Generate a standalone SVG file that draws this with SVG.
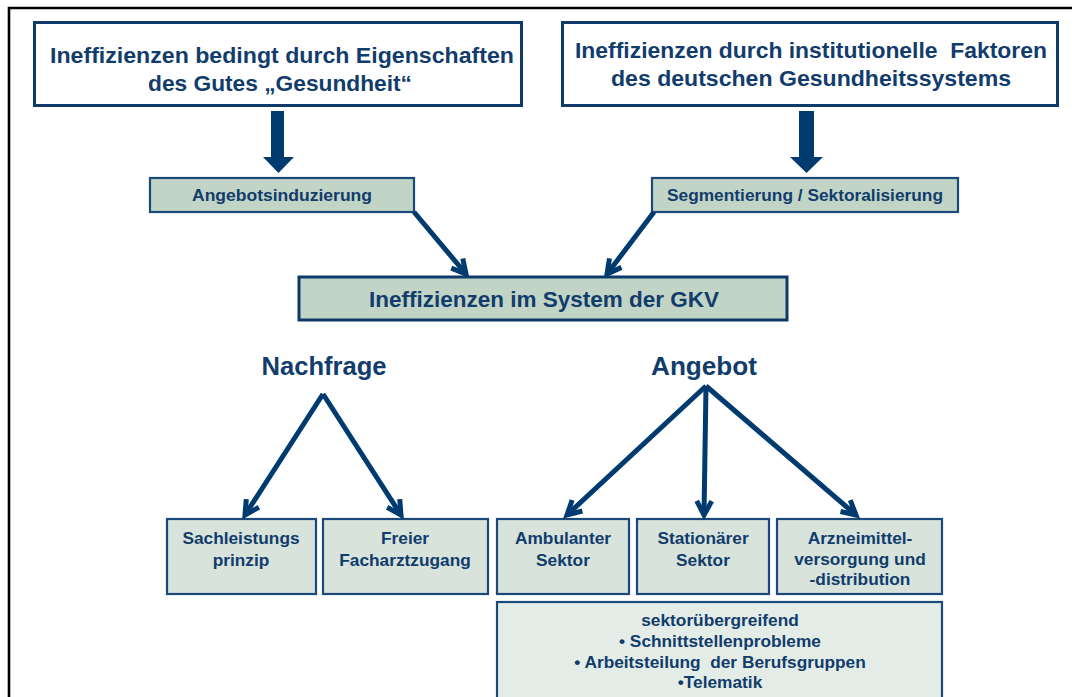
<svg xmlns="http://www.w3.org/2000/svg" width="1072" height="697" viewBox="0 0 1072 697">
<defs>
<style>
.t{font-family:"Liberation Sans",Arial,sans-serif;font-weight:bold;fill:#113c6b;text-anchor:middle}
.big{fill:#fff;stroke:#0d3a68;stroke-width:3}
.mid{fill:#c1d4c6;stroke:#1b4a7a;stroke-width:2.2}
.gkv{fill:#c1d4c6;stroke:#0d3a68;stroke-width:3}
.low{fill:#d7e3db;stroke:#1b4a7a;stroke-width:2.2}
.sek{fill:#e3ece6;stroke:#1b4a7a;stroke-width:2.2}
.ln{fill:none;stroke:#003b6f;stroke-width:5;marker-end:url(#ah)}
.blk{fill:#003b6f}
.s{font-size:17.3px}
</style>
<marker id="ah" markerUnits="userSpaceOnUse" markerWidth="24" markerHeight="24" refX="17" refY="10" orient="auto" overflow="visible">
<path d="M3,2.5 L17,10 L3,17.5" fill="none" stroke="#003b6f" stroke-width="5" stroke-linejoin="miter"/>
</marker>
</defs>
<rect width="1072" height="697" fill="#fff"/>
<path d="M9,697 V8 H1072" fill="none" stroke="#000" stroke-width="2.6"/>

<g id="box-eigenschaften">
<rect class="big" x="34.5" y="22.5" width="487" height="83"/>
<text class="t" x="282" y="63" font-size="22.5" textLength="464" lengthAdjust="spacingAndGlyphs">Ineffizienzen bedingt durch Eigenschaften</text>
<text class="t" x="280" y="91" font-size="22.5" textLength="264" lengthAdjust="spacingAndGlyphs">des Gutes „Gesundheit“</text>
</g>
<g id="box-institutionell">
<rect class="big" x="562.5" y="22.5" width="495" height="83"/>
<text class="t" x="811" y="58" font-size="22.5" xml:space="preserve" textLength="472" lengthAdjust="spacingAndGlyphs">Ineffizienzen durch institutionelle  Faktoren</text>
<text class="t" x="811" y="86" font-size="22.5" textLength="400" lengthAdjust="spacingAndGlyphs">des deutschen Gesundheitssystems</text>
</g>
<g id="box-angebotsinduzierung">
<rect class="mid" x="150" y="178" width="264" height="34"/>
<text class="t" x="282" y="201" font-size="16.5" textLength="180" lengthAdjust="spacingAndGlyphs">Angebotsinduzierung</text>
</g>
<g id="box-segmentierung">
<rect class="mid" x="652" y="178" width="306" height="34"/>
<text class="t" x="805" y="201" font-size="16.5" textLength="276" lengthAdjust="spacingAndGlyphs">Segmentierung / Sektoralisierung</text>
</g>
<g id="box-gkv">
<rect class="gkv" x="299" y="277" width="488" height="43"/>
<text class="t" x="544" y="307" font-size="22.5" textLength="350" lengthAdjust="spacingAndGlyphs">Ineffizienzen im System der GKV</text>
</g>
<g id="label-nachfrage">
<text class="t" x="324" y="375" font-size="25" textLength="125" lengthAdjust="spacingAndGlyphs">Nachfrage</text>
</g>
<g id="label-angebot">
<text class="t" x="704" y="375" font-size="25" textLength="106" lengthAdjust="spacingAndGlyphs">Angebot</text>
</g>
<g id="box-sachleistung">
<rect class="low" x="167" y="519" width="149" height="75"/>
<text class="t s" x="241" y="544">Sachleistungs</text>
<text class="t s" x="241" y="566">prinzip</text>
</g>
<g id="box-facharzt">
<rect class="low" x="323" y="519" width="165" height="75"/>
<text class="t s" x="405" y="544">Freier</text>
<text class="t s" x="405" y="566">Facharztzugang</text>
</g>
<g id="box-ambulant">
<rect class="low" x="497" y="519" width="132" height="75"/>
<text class="t s" x="563" y="544">Ambulanter</text>
<text class="t s" x="563" y="566">Sektor</text>
</g>
<g id="box-stationaer">
<rect class="low" x="637" y="519" width="132" height="75"/>
<text class="t s" x="703" y="544">Stationärer</text>
<text class="t s" x="703" y="566">Sektor</text>
</g>
<g id="box-arzneimittel">
<rect class="low" x="777" y="519" width="165" height="75"/>
<text class="t s" x="860" y="544">Arzneimittel-</text>
<text class="t s" x="860" y="565">versorgung und</text>
<text class="t s" x="860" y="585">-distribution</text>
</g>
<g id="box-sektoruebergreifend">
<rect class="sek" x="497" y="602" width="445" height="110"/>
<text class="t s" x="720" y="626">sektorübergreifend</text>
<text class="t s" x="720" y="647">• Schnittstellenprobleme</text>
<text class="t s" x="720" y="668" xml:space="preserve">• Arbeitsteilung  der Berufsgruppen</text>
<text class="t s" x="720" y="688">•Telematik</text>
</g>

<g id="connectors">
<polygon class="blk" points="271,111 284,111 284,157 294,157 278.5,173 263,157 271,157"/>
<polygon class="blk" points="799,111 814,111 814,157 823,157 806.5,173 790,157 799,157"/>
<line class="ln" x1="414" y1="212" x2="466" y2="274"/>
<line class="ln" x1="654" y1="212" x2="607" y2="274"/>
<line class="ln" x1="323" y1="394" x2="245" y2="515"/>
<line class="ln" x1="323" y1="394" x2="401" y2="515"/>
<line class="ln" x1="706" y1="386" x2="567" y2="515"/>
<line class="ln" x1="706" y1="386" x2="704" y2="515"/>
<line class="ln" x1="706" y1="386" x2="856" y2="515"/>
</g>
</svg>
